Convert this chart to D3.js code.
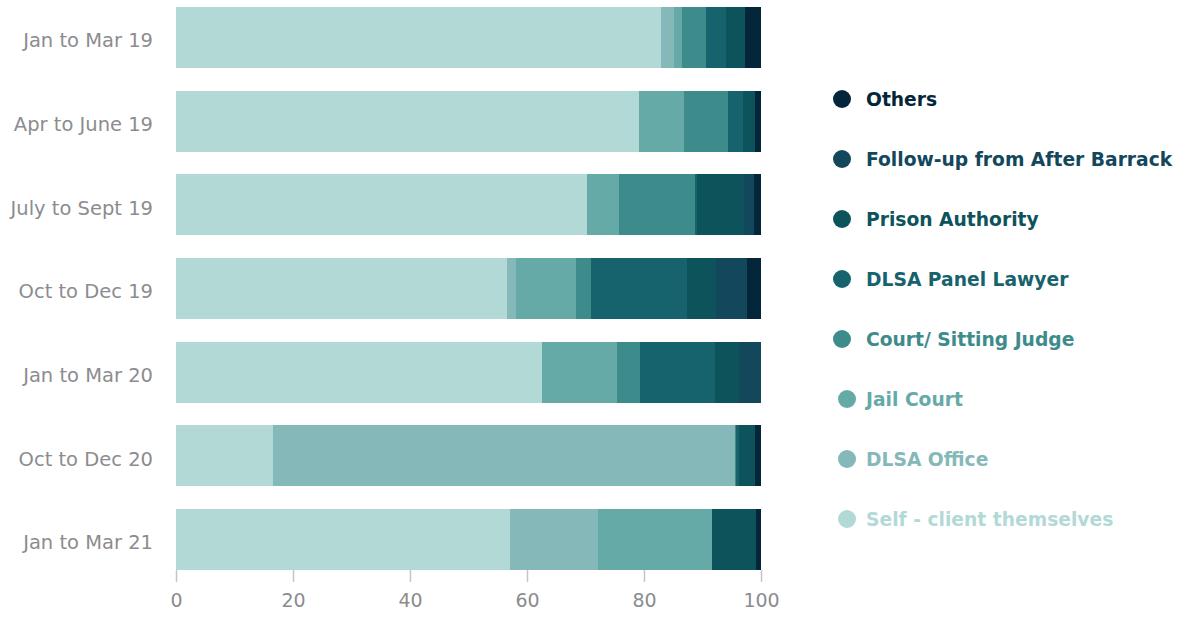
<!DOCTYPE html>
<html>
<head>
<meta charset="utf-8">
<script src="https://cdn.jsdelivr.net/npm/d3@7"></script>
<style>
  html, body { margin: 0; padding: 0; background: #fff; }
  svg { display: block; }
</style>
</head>
<body>
<svg id="chart" width="1182" height="619"></svg>
<script>
// Quarters shown on the vertical axis
const quarters = ["Jan to Mar 19", "Apr to June 19", "July to Sept 19", "Oct to Dec 19",
                  "Jan to Mar 20", "Oct to Dec 20", "Jan to Mar 21"];

// Referral sources, stacked left to right
const sources = ["Self - client themselves", "DLSA Office", "Jail Court", "Court/ Sitting Judge",
                 "DLSA Panel Lawyer", "Prison Authority", "Follow-up from After Barrack", "Others"];

const sourceColors = ["#b3d9d7", "#85b8b8", "#66aaa8", "#3e8b8c",
                      "#16626d", "#0d535b", "#12475c", "#04263a"];

// Share (%) of each source per quarter
const selfClient   = [82.9, 79.1, 70.3, 56.6, 62.6, 16.6, 57.1];
const dlsaOffice   = [2.2, 0, 0, 1.5, 0, 79.0, 15.0];
const jailCourt    = [1.4, 7.7, 5.4, 10.3, 12.8, 0, 19.5];
const courtJudge   = [4.1, 7.6, 13.0, 2.5, 3.9, 0.2, 0];
const panelLawyer  = [3.4, 2.5, 0.4, 16.5, 12.8, 0.5, 0];
const prisonAuth   = [3.3, 2.1, 8.0, 4.9, 4.1, 2.7, 7.5];
const followUp     = [0, 0, 1.7, 5.3, 3.8, 0, 0];
const others       = [2.7, 1.0, 1.2, 2.4, 0, 1.0, 0.9];

const xTicks = [0, 20, 40, 60, 80, 100];

const seriesValues = [selfClient, dlsaOffice, jailCourt, courtJudge,
                      panelLawyer, prisonAuth, followUp, others];

const rows = quarters.map((q, i) => {
  const r = { quarter: q };
  sources.forEach((s, j) => { r[s] = seriesValues[j][i]; });
  return r;
});

const svg = d3.select("#chart");
const font = "'DejaVu Sans', sans-serif";

const x = d3.scaleLinear().domain([0, 100]).range([176, 761]);
const y = d3.scaleBand().domain(quarters).range([7, 570]).paddingInner(0.27).paddingOuter(0);
const color = d3.scaleOrdinal().domain(sources).range(sourceColors);

const stacked = d3.stack().keys(sources)(rows);

svg.append("g")
  .selectAll("g")
  .data(stacked)
  .join("g")
  .attr("fill", d => color(d.key))
  .selectAll("rect")
  .data(d => d)
  .join("rect")
  .attr("x", d => x(d[0]))
  .attr("y", d => y(d.data.quarter))
  .attr("width", d => Math.max(0, x(d[1]) - x(d[0])))
  .attr("height", y.bandwidth())
  .attr("shape-rendering", "crispEdges");

// Category labels
svg.append("g")
  .selectAll("text")
  .data(quarters)
  .join("text")
  .attr("x", 153)
  .attr("y", d => y(d) + y.bandwidth() / 2 + 3)
  .attr("dy", "0.35em")
  .attr("text-anchor", "end")
  .attr("font-family", font)
  .attr("font-size", 19.5)
  .attr("fill", "#8c8c8f")
  .text(d => d);

// Bottom axis: ticks and labels only
const xAxis = svg.append("g")
  .attr("transform", "translate(0,570)")
  .call(d3.axisBottom(x).tickValues(xTicks).tickSize(12).tickPadding(12));
xAxis.select(".domain").remove();
xAxis.selectAll(".tick line").attr("stroke", "#c4c4c4").attr("stroke-width", 1.5);
xAxis.selectAll(".tick text")
  .attr("font-family", font)
  .attr("font-size", 19)
  .attr("fill", "#8c8c8f");

// Legend, darkest source on top
const legendItems = sources.slice().reverse();
const legendIndent = { "Jail Court": 5, "DLSA Office": 5, "Self - client themselves": 5 };
const legend = svg.append("g")
  .selectAll("g")
  .data(legendItems)
  .join("g")
  .attr("transform", (d, i) => `translate(0,${99 + i * 60})`);

legend.append("circle")
  .attr("cx", d => 842 + (legendIndent[d] || 0))
  .attr("cy", 0)
  .attr("r", 9)
  .attr("fill", d => color(d));

legend.append("text")
  .attr("x", 866)
  .attr("y", 0)
  .attr("dy", "0.35em")
  .attr("font-family", font)
  .attr("font-weight", "bold")
  .attr("font-size", 18.7)
  .attr("fill", d => color(d))
  .text(d => d);
</script>
</body>
</html>
